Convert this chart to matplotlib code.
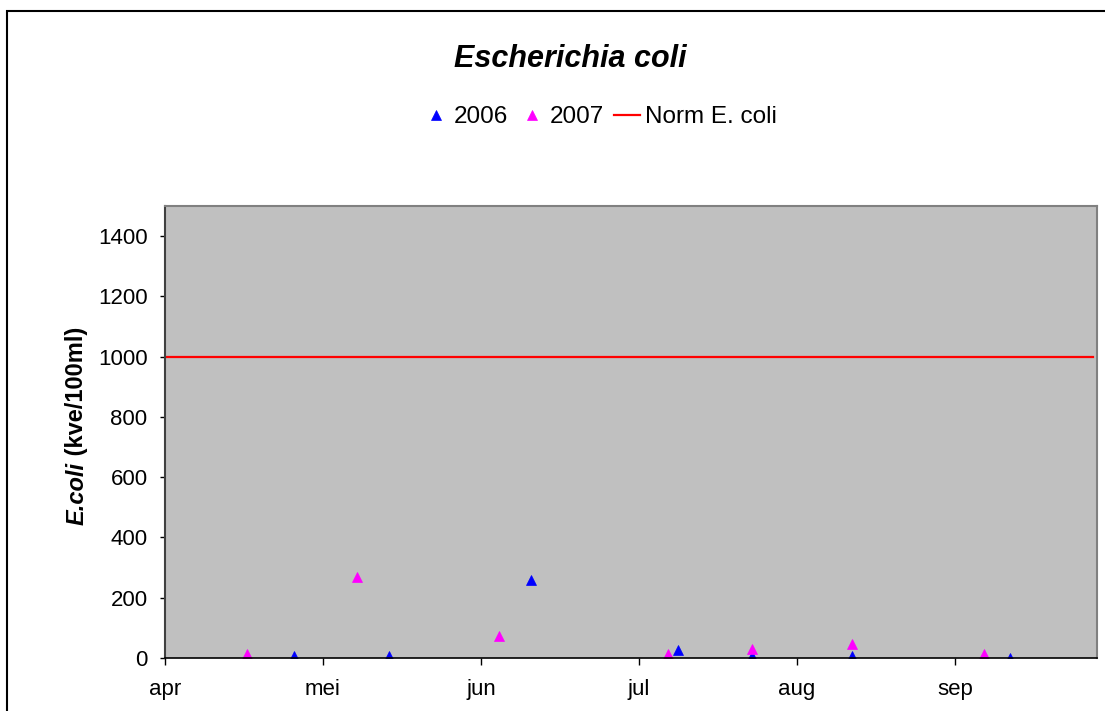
"""
E. coli measurements 2006 / 2007 against the norm
"""
import matplotlib.pyplot as plt
import matplotlib.patches as patches
import pandas as pd

plt.rcParams['font.family'] = ['Liberation Sans', 'DejaVu Sans']

# sampling dates and counts (kve/100ml)
dates_2006 = ['2006-04-25', '2006-05-13', '2006-06-09', '2006-07-07',
              '2006-07-21', '2006-08-09', '2006-09-08']
ecoli_2006 = [7, 7, 258, 28, 5, 7, 1]

dates_2007 = ['2007-04-16', '2007-05-07', '2007-06-03', '2007-07-05',
              '2007-07-21', '2007-08-09', '2007-09-03']
ecoli_2007 = [13, 268, 74, 12, 29, 45, 12]

norm_ecoli = 1000
month_labels = ['apr', 'mei', 'jun', 'jul', 'aug', 'sep']
tick_days = [0, 30, 60, 90, 120, 150]
x_max = 177


def season_day(dates):
    # days since 1 april of the same year (mid-day)
    d = pd.to_datetime(dates)
    start = pd.to_datetime([f'{y}-04-01' for y in d.year])
    return (d - start).days.values + 0.5


x06 = season_day(dates_2006)
x07 = season_day(dates_2007)

fig = plt.figure(figsize=(11.05, 7.11), dpi=100)
ax = fig.add_axes([165 / 1105, 1 - 658 / 711, 932 / 1105, 452 / 711])
ax.set_facecolor('#c0c0c0')

ax.plot(x06, ecoli_2006, linestyle='none', marker='^', markersize=7,
        color='#0000ff', markeredgewidth=0.5, label='2006')
ax.plot(x07, ecoli_2007, linestyle='none', marker='^', markersize=7,
        color='#ff00ff', markeredgewidth=0.5, label='2007')
ax.plot([0, x_max - 0.7], [norm_ecoli, norm_ecoli], color='#ff0000', lw=1.6,
        label='Norm E. coli')

ax.set_xlim(0, x_max)
ax.set_ylim(0, 1500)
ax.set_xticks(tick_days)
ax.set_xticklabels(month_labels)
ax.set_yticks(range(0, 1401, 200))
ax.tick_params(axis='y', direction='out', length=3.6, width=1, labelsize=16, pad=9)
ax.tick_params(axis='x', direction='out', length=5, width=1, labelsize=16, pad=10)

for side in ['top', 'right']:
    ax.spines[side].set_color('#808080')
    ax.spines[side].set_linewidth(1.5)
ax.spines['left'].set_color('#404040')
ax.spines['left'].set_linewidth(1.5)
ax.spines['bottom'].set_color('black')
ax.spines['bottom'].set_linewidth(1.2)

fig.text(570 / 1105, 1 - 59 / 711, 'Escherichia coli', ha='center', va='center',
         fontsize=22, fontweight='bold', fontstyle='italic')

fig.legend(loc='center', bbox_to_anchor=(600 / 1105, 1 - 117 / 711), ncol=3,
           frameon=False, fontsize=17.5, handlelength=1.05, handletextpad=0.2,
           columnspacing=0.45, borderpad=0, markerscale=1)

# y label: italic part + normal part
fig.canvas.draw()
r = fig.canvas.get_renderer()
t1 = fig.text(77 / 1105, 0, 'E.coli', rotation=90, ha='center', va='bottom',
              fontsize=17, fontweight='bold', fontstyle='italic')
t2 = fig.text(77 / 1105, 0, ' (kve/100ml)', rotation=90, ha='center', va='bottom',
              fontsize=17, fontweight='bold')
h1 = t1.get_window_extent(r).height
h2 = t2.get_window_extent(r).height
y_mid = 711 - 426
y0 = y_mid - (h1 + h2) / 2
t1.set_y(y0 / 711)
t2.set_y((y0 + h1) / 711)

# chart border
fig.patches.append(patches.Rectangle((7 / 1105, -0.1), 1.2, 1.1 - 11 / 711,
                                     transform=fig.transFigure, fill=False,
                                     edgecolor='black', lw=1.5))

plt.savefig('out.png', dpi=100)
